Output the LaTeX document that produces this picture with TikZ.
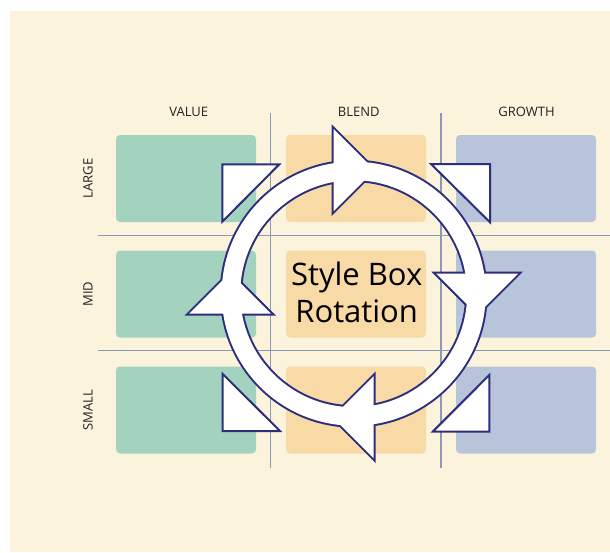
\documentclass[tikz,border=0pt]{standalone}
\usepackage{fontspec}
\setmainfont{Open Sans}
\definecolor{bgc}{HTML}{FCF3DC}
\definecolor{greenc}{HTML}{A3D3BF}
\definecolor{orangec}{HTML}{F8DAA7}
\definecolor{bluec}{HTML}{B8C4D9}
\definecolor{gridc}{HTML}{8C9AB8}
\definecolor{navyc}{HTML}{2D2D7D}
\definecolor{txtc}{HTML}{222222}
\begin{document}
\begin{tikzpicture}[x=1pt,y=-1pt,
  cell/.style={rounded corners=4pt, minimum width=140pt, minimum height=87pt, inner sep=0pt, draw=none},
  hdr/.style={font=\fontsize{13}{15}\selectfont, text=txtc, inner sep=0pt},
  gridline/.style={draw=gridc, line width=1.2pt},
  wedge/.style={draw=navyc, fill=white, line width=2pt, line join=miter},
  halo/.style={draw=navyc, line width=4pt, line join=miter},
  title/.style={font=\fontsize{31}{37.5}\selectfont, text=black, align=center, inner sep=0pt}]
\useasboundingbox (0,0) rectangle (610,552);
\fill[bgc] (9.7,11) rectangle (610,552);

% grid lines
\coordinate (v1t) at (270.7,113); \coordinate (v1b) at (270.7,467.7);
\coordinate (v2t) at (441,113);   \coordinate (v2b) at (441,467.7);
\coordinate (h1l) at (98,235.7);  \coordinate (h1r) at (610,235.7);
\coordinate (h2l) at (98,350.7);  \coordinate (h2r) at (610,350.7);
\draw[gridline] (v1t) -- (v1b);
\draw[gridline] (v2t) -- (v2b);
\draw[gridline] (h1l) -- (h1r);
\draw[gridline] (h2l) -- (h2r);

% cells
\node[cell, fill=greenc]  (gL) at (186,178.5) {};
\node[cell, fill=greenc]  (gM) at (186,294) {};
\node[cell, fill=greenc]  (gS) at (186,410) {};
\node[cell, fill=orangec] (oL) at (356,178.5) {};
\node[cell, fill=orangec] (oM) at (356,294) {};
\node[cell, fill=orangec] (oS) at (356,410) {};
\node[cell, fill=bluec]   (bL) at (526,178.5) {};
\node[cell, fill=bluec]   (bM) at (526,294) {};
\node[cell, fill=bluec]   (bS) at (526,410) {};

% headers
\node[hdr] (value)  at (188.7,111.7) {VALUE};
\node[hdr] (blend)  at (358.8,111.7) {BLEND};
\node[hdr] (growth) at (526.5,111.7) {GROWTH};
\node[hdr, rotate=90] (large) at (88,178.5) {LARGE};
\node[hdr, rotate=90] (mid)   at (88,294) {MID};
\node[hdr, rotate=90] (small) at (88,410) {SMALL};

% corner wedges
\draw[wedge] (222.3,164.3) -- (279.3,164.3) -- (222.3,221.7) -- cycle;
\draw[wedge] (431,164) -- (490,164) -- (490,222.3) -- cycle;
\draw[wedge] (222.7,374) -- (222.7,431) -- (280,431) -- cycle;
\draw[wedge] (489.3,375) -- (489.3,431.7) -- (432.7,431.7) -- cycle;

% rotating ring with arrowheads (outline of the union)
\coordinate (rc) at (353.7,293.7);
\draw[halo] (rc) circle[radius=132pt] (rc) circle[radius=113.5pt];
\draw[halo] (333.7,129.2) -- (374.7,170.2) -- (333.7,211.2) -- cycle;
\draw[halo] (436.2,273.7) -- (477.2,314.7) -- (518.2,273.7) -- cycle;
\draw[halo] (373.7,376.2) -- (332.7,417.2) -- (373.7,458.2) -- cycle;
\draw[halo] (189.2,313.7) -- (230.2,272.7) -- (271.2,313.7) -- cycle;
\fill[white, even odd rule] (rc) circle[radius=132pt] (rc) circle[radius=113.5pt];
\fill[white] (333.7,129.2) -- (374.7,170.2) -- (333.7,211.2) -- cycle;
\fill[white] (436.2,273.7) -- (477.2,314.7) -- (518.2,273.7) -- cycle;
\fill[white] (373.7,376.2) -- (332.7,417.2) -- (373.7,458.2) -- cycle;
\fill[white] (189.2,313.7) -- (230.2,272.7) -- (271.2,313.7) -- cycle;

\node[title] (ttl) at (356.7,292.5) {Style Box\\Rotation};
\end{tikzpicture}
\end{document}
